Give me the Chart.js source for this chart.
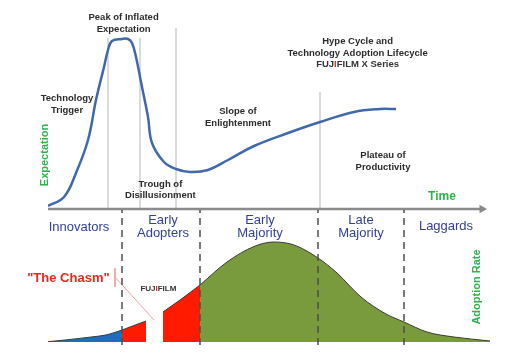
<!DOCTYPE html>
<html>
<head>
<meta charset="utf-8">
<script src="https://cdn.jsdelivr.net/npm/chart.js@4/dist/chart.umd.min.js"></script>
<style>
  body { margin: 0; background: #fff; }
  #wrap { position: relative; width: 507px; height: 353px; overflow: hidden; }
  #hypeChart { position: absolute; left: 0; top: 0; }
  #adoptChart { position: absolute; left: 0; top: 200px; }
</style>
</head>
<body>
<div id="wrap">
  <canvas id="hypeChart" width="507" height="215"></canvas>
  <canvas id="adoptChart" width="507" height="153"></canvas>
</div>
<script>
// hype cycle: time vs expectation
var hypeTime = [0, 4, 7, 10, 12, 14, 15, 16, 18.5, 20, 21, 22, 23.5, 25, 26, 29, 32, 35.5, 40, 45, 51.5, 60, 68, 76.5, 83, 87];
var hypeValue = [1.5, 6, 18, 34.5, 54.5, 71, 79.5, 84, 85, 85, 83, 76, 61, 46, 33, 23.5, 20, 18.5, 19.5, 24.5, 31.5, 38, 43.5, 48.5, 50, 50];

// grey phase markers on the hype curve
var phaseTime = [15, 23, 32, 68];
var phaseTop = [85.5, 85.5, 90.5, 58.5];

// adoption lifecycle: time vs adoption rate
var bellTime = [0, 5, 10, 15, 18.5, 24.5, 28.75, 33, 38, 44.75, 51.5, 56.5, 61.5, 67.5, 72.25, 78.25, 84.5, 89, 94.75, 101.5, 110.5];
var bellValue = [0.3, 2.3, 4.6, 7.5, 12, 21, 30, 42, 57, 80, 95.5, 100, 97, 84, 69, 45, 28, 20, 10, 5, 1];

// group boundaries (dashed) and filled pieces (the gap is the chasm)
var groupEdges = [18.5, 38, 67.5, 89];
var pieceStart = [0, 18.5, 28.75, 38];
var pieceEnd = [18.5, 24.5, 38, 110.5];
var groupNames = [["Innovators"], ["Early", "Adopters"], ["Early", "Majority"], ["Late", "Majority"], ["Laggards"]];

var pieceColors = ["#1f6dbd", "#ff1a00", "#ff1a00", "#7a9a3e"];

function pts(xs, ys) {
  var out = [];
  for (var i = 0; i < xs.length; i++) out.push({ x: xs[i], y: ys[i] });
  return out;
}

function drawLogoLine(ctx, text, x, y) {
  // FUJ i FILM with the red i
  var parts = [text.slice(0, 3), text.slice(3, 4), text.slice(4)];
  var colors = ["#333", "#e8291c", "#333"];
  var w = 0;
  for (var i = 0; i < parts.length; i++) w += ctx.measureText(parts[i]).width;
  var left = x - w / 2;
  ctx.textAlign = "left";
  for (var j = 0; j < parts.length; j++) {
    ctx.fillStyle = colors[j];
    ctx.fillText(parts[j], left, y);
    left += ctx.measureText(parts[j]).width;
  }
  ctx.textAlign = "center";
}

var labelPlugin = {
  id: "labels",
  afterDatasetsDraw: function (chart, args, opts) {
    var ctx = chart.ctx;
    var xs = chart.scales.x;
    var ys = chart.scales.y;
    ctx.save();
    ctx.textAlign = "center";
    ctx.textBaseline = "middle";
    (opts.items || []).forEach(function (it) {
      var px = xs.getPixelForValue(it.t);
      var py = ys.getPixelForValue(it.v);
      ctx.font = it.font;
      ctx.fillStyle = it.color;
      if (it.rotate) {
        ctx.save();
        ctx.translate(px, py);
        ctx.rotate(-Math.PI / 2);
        ctx.fillText(it.lines[0], 0, 0);
        ctx.restore();
        return;
      }
      for (var i = 0; i < it.lines.length; i++) {
        var ly = py + i * (it.lineH || 12);
        if (it.logo && it.lines[i].indexOf("FUJIFILM") === 0) {
          drawLogoLine(ctx, it.lines[i], px, ly);
          ctx.fillStyle = it.color;
        } else {
          ctx.fillText(it.lines[i], px, ly);
        }
      }
    });
    ctx.restore();
  }
};

var topFont = "bold 9.5px 'Liberation Sans', Arial, sans-serif";
var darkText = "#2b2b2b";
var green = "#2db34a";
var navy = "#33409a";

// top chart
var hypeSets = [
  {
    data: pts(hypeTime, hypeValue),
    borderColor: "#3f68ad",
    borderWidth: 2.5,
    pointRadius: 0,
    tension: 0.4,
    order: 0,
  },
  {
    data: [{ x: 0, y: 0 }, { x: 108.5, y: 0 }],
    borderColor: "#8a8a8a",
    borderWidth: 2.5,
    pointRadius: [0, 5],
    pointStyle: "triangle",
    pointRotation: 90,
    pointBackgroundColor: "#8a8a8a",
    pointBorderWidth: 0,
    clip: false,
    order: 1,
  },
];
for (var p = 0; p < phaseTime.length; p++) {
  hypeSets.push({
    data: [{ x: phaseTime[p], y: 0 }, { x: phaseTime[p], y: phaseTop[p] }],
    borderColor: "#cfcfcf",
    borderWidth: 1.5,
    pointRadius: 0,
    order: 2,
  });
}

new Chart(document.getElementById("hypeChart").getContext("2d"), {
  type: "line",
  data: { datasets: hypeSets },
  plugins: [labelPlugin],
  options: {
    responsive: false,
    animation: false,
    devicePixelRatio: 1,
    layout: { padding: { left: 48, right: 15, top: 9, bottom: 6 } },
    scales: {
      x: { type: "linear", min: 0, max: 111, display: false },
      y: { min: 0, max: 100, display: false },
    },
    plugins: {
      legend: { display: false },
      tooltip: { enabled: false },
      labels: {
        items: [
          { lines: ["Peak of Inflated", "Expectation"], t: 18.9, v: 96, font: topFont, color: darkText, lineH: 12 },
          { lines: ["Technology", "Trigger"], t: 4.75, v: 55.2, font: topFont, color: darkText, lineH: 11.5 },
          { lines: ["Trough of", "Disillusionment"], t: 28.1, v: 12.5, font: topFont, color: darkText, lineH: 11.7 },
          { lines: ["Slope of", "Enlightenment"], t: 47.5, v: 49, font: topFont, color: darkText, lineH: 12 },
          { lines: ["Hype Cycle and", "Technology Adoption Lifecycle", "FUJIFILM X Series"], t: 77.4, v: 83.7, font: topFont, color: darkText, lineH: 11.4, logo: true },
          { lines: ["Plateau of", "Productivity"], t: 83.75, v: 26.7, font: topFont, color: darkText, lineH: 11.6 },
          { lines: ["Time"], t: 98.5, v: 6, font: "bold 12px 'Liberation Sans', Arial, sans-serif", color: green },
          { lines: ["Expectation"], t: -0.75, v: 27, font: "bold 11px 'Liberation Sans', Arial, sans-serif", color: green, rotate: true },
        ],
      },
    },
  },
});

// bottom chart
var bellSets = [];
for (var s = 0; s < pieceStart.length; s++) {
  var piece = [];
  for (var k = 0; k < bellTime.length; k++) {
    if (bellTime[k] >= pieceStart[s] && bellTime[k] <= pieceEnd[s]) {
      piece.push({ x: bellTime[k], y: bellValue[k] });
    }
  }
  bellSets.push({
    data: piece,
    fill: "origin",
    backgroundColor: pieceColors[s],
    borderColor: "#3a3a3a",
    borderWidth: 1,
    pointRadius: 0,
    cubicInterpolationMode: "monotone",
    order: 2,
  });
}
for (var g = 0; g < groupEdges.length; g++) {
  bellSets.push({
    data: [{ x: groupEdges[g], y: -3 }, { x: groupEdges[g], y: 132 }],
    borderColor: "#4d4d4d",
    borderWidth: 1.5,
    borderDash: [7, 5],
    pointRadius: 0,
    clip: false,
    order: 0,
  });
}
// pointer from "The Chasm" to the gap
bellSets.push({
  data: [{ x: 16.75, y: 74 }, { x: 16.75, y: 55 }],
  borderColor: "#f2a3a3",
  borderWidth: 1,
  pointRadius: 0,
  order: 1,
});
bellSets.push({
  data: [{ x: 16.75, y: 65 }, { x: 26.5, y: 22 }],
  borderColor: "#f2a3a3",
  borderWidth: 1,
  pointRadius: 0,
  order: 1,
});

var groupFont = "13px 'Liberation Sans', Arial, sans-serif";
var groupPos = [
  { t: 7.75, v: 115 },
  { t: 28.75, v: 122 },
  { t: 53, v: 122 },
  { t: 78.25, v: 122 },
  { t: 99.5, v: 116 },
];
var bottomItems = [];
for (var n = 0; n < groupNames.length; n++) {
  bottomItems.push({ lines: groupNames[n], t: groupPos[n].t, v: groupPos[n].v, font: groupFont, color: navy, lineH: 13 });
}
bottomItems.push({ lines: ["\"The Chasm\""], t: 5.1, v: 64, font: "bold 13px 'Liberation Sans', Arial, sans-serif", color: "#e8291c" });
bottomItems.push({ lines: ["FUJIFILM"], t: 27.6, v: 53, font: "bold 8px 'Liberation Sans', Arial, sans-serif", color: "#333", logo: true });
bottomItems.push({ lines: ["Adoption Rate"], t: 107.25, v: 55, font: "bold 11px 'Liberation Sans', Arial, sans-serif", color: green, rotate: true });

new Chart(document.getElementById("adoptChart").getContext("2d"), {
  type: "line",
  data: { datasets: bellSets },
  plugins: [labelPlugin],
  options: {
    responsive: false,
    animation: false,
    devicePixelRatio: 1,
    layout: { padding: { left: 48, right: 15, top: 10, bottom: 11 } },
    scales: {
      x: { type: "linear", min: 0, max: 111, display: false },
      y: { min: 0, max: 132, display: false },
    },
    plugins: {
      legend: { display: false },
      tooltip: { enabled: false },
      labels: { items: bottomItems },
    },
  },
});
</script>
</body>
</html>
